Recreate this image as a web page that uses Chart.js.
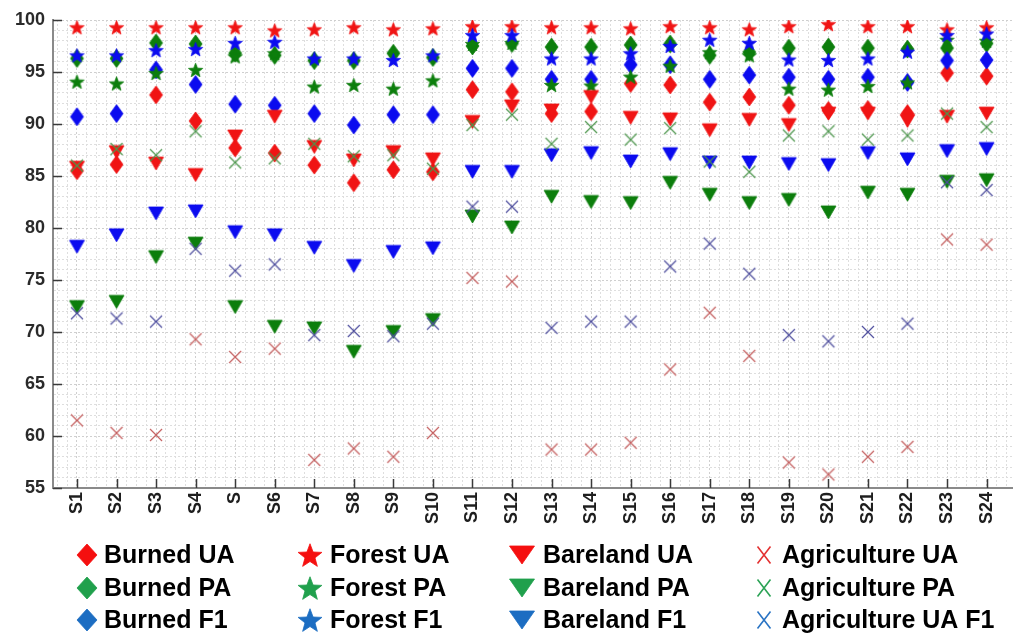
<!DOCTYPE html>
<html>
<head>
<meta charset="utf-8">
<script src="https://cdn.jsdelivr.net/npm/chart.js@4/dist/chart.umd.min.js"></script>
<style>
  html, body { margin: 0; padding: 0; background: #ffffff; }
  #wrap { width: 1032px; height: 639px; }
</style>
</head>
<body>
<div id="wrap"><canvas id="chart" width="1032" height="639"></canvas></div>
<script>
// Sites along the x axis
const sites = ['S1','S2','S3','S4','S','S6','S7','S8','S9','S10','S11','S12',
               'S13','S14','S15','S16','S17','S18','S19','S20','S21','S22','S23','S24'];

// Labelled y ticks (accuracy, %)
const yTickValues = [55, 60, 65, 70, 75, 80, 85, 90, 95, 100];

// Burned class
const burnedUA = [85.5, 86.1, 92.8, 90.3, 87.7, 87.2, 86.05, 84.35, 85.6, 85.4, 93.3, 93.1,
                  91.0, 91.2, 93.9, 93.75, 92.1, 92.6, 91.8, 91.3, 91.4, 91.0, 94.9, 94.6];
const burnedPA = [96.3, 96.3, 97.8, 97.7, 96.8, 96.6, 96.1, 96.1, 96.8, 96.4, 97.5, 97.75,
                  97.4, 97.4, 97.6, 97.7, 96.6, 96.9, 97.3, 97.4, 97.3, 97.2, 97.3, 97.75];
const burnedF1 = [90.7, 91.0, 95.2, 93.8, 91.9, 91.8, 91.0, 89.9, 90.9, 90.9, 95.35, 95.35,
                  94.3, 94.3, 95.7, 95.7, 94.3, 94.7, 94.5, 94.3, 94.5, 94.0, 96.1, 96.15];

// Forest class
const forestUA = [99.3, 99.3, 99.3, 99.3, 99.3, 99.0, 99.1, 99.3, 99.1, 99.2, 99.4, 99.4,
                  99.3, 99.3, 99.2, 99.4, 99.3, 99.1, 99.4, 99.6, 99.4, 99.4, 99.1, 99.3];
const forestPA = [94.07, 93.9, 94.9, 95.2, 96.5, 96.8, 93.6, 93.75, 93.4, 94.2, 97.7, 97.8,
                  93.75, 93.7, 94.55, 95.6, 96.9, 96.6, 93.4, 93.3, 93.65, 94.0, 98.1, 98.0];
const forestF1 = [96.6, 96.6, 97.1, 97.2, 97.8, 97.9, 96.3, 96.3, 96.15, 96.6, 98.55, 98.55,
                  96.3, 96.3, 96.8, 97.5, 98.1, 97.8, 96.2, 96.15, 96.3, 96.95, 98.55, 98.7];

// Bareland class
const barelandUA = [85.8, 87.3, 86.2, 85.1, 88.8, 90.7, 87.8, 86.5, 87.3, 86.6, 90.2, 91.7,
                    91.3, 92.6, 90.6, 90.45, 89.4, 90.4, 89.9, 91.0, 91.0, 90.3, 90.7, 91.0];
const barelandPA = [72.4, 72.9, 77.2, 78.5, 72.4, 70.5, 70.35, 68.1, 70.0, 71.15, 81.1, 80.05,
                    83.0, 82.5, 82.4, 84.35, 83.2, 82.4, 82.7, 81.5, 83.4, 83.2, 84.45, 84.6];
const barelandF1 = [78.2, 79.3, 81.4, 81.6, 79.6, 79.3, 78.1, 76.35, 77.7, 78.05, 85.4, 85.4,
                    87.0, 87.2, 86.4, 87.1, 86.3, 86.3, 86.15, 86.05, 87.2, 86.6, 87.4, 87.6];

// Agriculture class
const agriUA = [61.5, 60.3, 60.1, 69.3, 67.6, 68.4, 57.7, 58.8, 58.0, 60.3, 75.2, 74.85,
                58.7, 58.7, 59.35, 66.4, 71.85, 67.7, 57.45, 56.3, 58.0, 58.95, 78.9, 78.4];
const agriPA = [86.0, 87.6, 87.0, 89.3, 86.3, 86.7, 88.1, 86.9, 87.0, 85.7, 89.9, 90.9,
                88.1, 89.7, 88.5, 89.6, 86.4, 85.4, 88.9, 89.3, 88.5, 88.9, 91.0, 89.7];
const agriF1 = [71.8, 71.3, 71.0, 78.0, 75.9, 76.5, 69.7, 70.1, 69.6, 70.8, 82.05, 82.05,
                70.4, 71.0, 71.0, 76.3, 78.5, 75.6, 69.7, 69.1, 70.0, 70.8, 84.4, 83.65];

// ---- marker drawing -------------------------------------------------------
function tracePath(ctx, shape, cx, cy, w, h) {
  ctx.beginPath();
  if (shape === 'diamond') {
    ctx.moveTo(cx, cy - h / 2);
    ctx.lineTo(cx + w / 2, cy);
    ctx.lineTo(cx, cy + h / 2);
    ctx.lineTo(cx - w / 2, cy);
    ctx.closePath();
  } else if (shape === 'star') {
    const R = w / 2, r = R * 0.42;
    for (let k = 0; k < 10; k++) {
      const rad = k % 2 === 0 ? R : r;
      const a = -Math.PI / 2 + k * Math.PI / 5;
      const px = cx + rad * Math.cos(a), py = cy + rad * Math.sin(a) + R * 0.1;
      if (k === 0) ctx.moveTo(px, py); else ctx.lineTo(px, py);
    }
    ctx.closePath();
  } else if (shape === 'tri') {
    ctx.moveTo(cx - w / 2, cy - h / 2);
    ctx.lineTo(cx + w / 2, cy - h / 2);
    ctx.lineTo(cx, cy + h / 2);
    ctx.closePath();
  } else if (shape === 'cross') {
    ctx.moveTo(cx - w / 2, cy - h / 2);
    ctx.lineTo(cx + w / 2, cy + h / 2);
    ctx.moveTo(cx + w / 2, cy - h / 2);
    ctx.lineTo(cx - w / 2, cy + h / 2);
  }
}

function paintShape(ctx, shape, cx, cy, w, h, color, lw) {
  tracePath(ctx, shape, cx, cy, w, h);
  if (shape === 'cross') {
    ctx.strokeStyle = color;
    ctx.lineWidth = lw || 1.3;
    ctx.stroke();
  } else {
    ctx.fillStyle = color;
    ctx.fill();
    ctx.strokeStyle = color;
    ctx.lineWidth = 0.8;
    ctx.stroke();
  }
}

const markerSize = {
  diamond: [13, 18],
  star:    [15, 14],
  tri:     [15, 13],
  cross:   [12, 12]
};

function markerImage(shape, color) {
  const [w, h] = markerSize[shape];
  const c = document.createElement('canvas');
  c.width = w + 4;
  c.height = h + 4;
  paintShape(c.getContext('2d'), shape, c.width / 2, c.height / 2, w, h, color, 1.2);
  return c;
}

// ---- series definitions ---------------------------------------------------
const RED = '#f01414', GREEN = '#0c7e0c', BLUE = '#0b0bef';
const series = [
  { label: 'Burned UA',   values: burnedUA,   shape: 'diamond', color: RED,   key: '#f50f0f' },
  { label: 'Burned PA',   values: burnedPA,   shape: 'diamond', color: GREEN, key: '#20a04c' },
  { label: 'Burned F1',   values: burnedF1,   shape: 'diamond', color: BLUE,  key: '#1c6dc2' },
  { label: 'Forest UA',   values: forestUA,   shape: 'star',    color: RED,   key: '#f50f0f' },
  { label: 'Forest PA',   values: forestPA,   shape: 'star',    color: GREEN, key: '#20a04c' },
  { label: 'Forest F1',   values: forestF1,   shape: 'star',    color: BLUE,  key: '#1c6dc2' },
  { label: 'Bareland UA', values: barelandUA, shape: 'tri',     color: RED,   key: '#f50f0f' },
  { label: 'Bareland PA', values: barelandPA, shape: 'tri',     color: GREEN, key: '#20a04c' },
  { label: 'Bareland F1', values: barelandF1, shape: 'tri',     color: BLUE,  key: '#1c6dc2' },
  { label: 'Agriculture UA',    values: agriUA, shape: 'cross', color: '#c45f5f', key: '#e43232' },
  { label: 'Agriculture PA',    values: agriPA, shape: 'cross', color: '#4c964c', key: '#2ca356' },
  { label: 'Agriculture UA F1', values: agriF1, shape: 'cross', color: '#4e4e9e', key: '#2a74c4' }
];

const datasets = series.map((s, i) => ({
  label: s.label,
  data: s.values.map((v, j) => ({ x: j, y: v })),
  pointStyle: markerImage(s.shape, s.color),
  pointRadius: 8,
  pointHoverRadius: 8,
  showLine: false,
  order: series.length - i,
  shape: s.shape,
  keyColor: s.key
}));

// ---- plugins --------------------------------------------------------------
// Short tick marks pointing into the plot area
const innerTicks = {
  id: 'innerTicks',
  beforeDatasetsDraw(chart) {
    const { ctx, chartArea: a, scales: { x, y } } = chart;
    ctx.save();
    ctx.strokeStyle = '#3a3a3a';
    ctx.lineWidth = 1.5;
    ctx.beginPath();
    sites.forEach((s, i) => {
      const px = Math.round(x.getPixelForValue(i)) + 0.5;
      ctx.moveTo(px, a.bottom);
      ctx.lineTo(px, a.bottom - 9);
    });
    yTickValues.forEach(v => {
      const py = Math.round(y.getPixelForValue(v)) + 0.5;
      ctx.moveTo(a.left, py);
      ctx.lineTo(a.left + 9, py);
    });
    ctx.stroke();
    ctx.restore();
  }
};

// Legend laid out as 4 columns x 3 rows beneath the axis
const gridLegend = {
  id: 'gridLegend',
  afterDraw(chart, args, opts) {
    const { ctx } = chart;
    ctx.save();
    ctx.font = 'bold 25px "Liberation Sans", Arial, sans-serif';
    ctx.textBaseline = 'middle';
    ctx.textAlign = 'left';
    chart.data.datasets.forEach((ds, i) => {
      const col = Math.floor(i / 3), row = i % 3;
      const mx = opts.markerX[col], tx = opts.textX[col], cy = opts.rowY[row];
      const size = opts.sizes[ds.shape];
      paintShape(ctx, ds.shape, mx, cy, size[0], size[1], ds.keyColor, 1.6);
      ctx.fillStyle = '#000000';
      ctx.fillText(ds.label, tx, cy + 1);
    });
    ctx.restore();
  }
};

// ---- chart ----------------------------------------------------------------
new Chart(document.getElementById('chart'), {
  type: 'scatter',
  data: { datasets },
  plugins: [innerTicks, gridLegend],
  options: {
    responsive: false,
    animation: false,
    layout: { padding: { top: 20, right: 5, bottom: 101, left: 0 } },
    plugins: {
      legend: { display: false },
      tooltip: { enabled: false },
      gridLegend: {
        markerX: [87, 310, 522, 764],
        textX: [104, 330, 543, 782],
        rowY: [555, 588, 620],
        sizes: { diamond: [20, 22], star: [25, 24], tri: [25, 18], cross: [13, 17] }
      }
    },
    scales: {
      x: {
        type: 'linear',
        min: -0.606,
        max: 23.65,
        afterBuildTicks(scale) {
          const t = [];
          for (let k = -2; k <= sites.length * 4 - 2; k++) t.push({ value: k / 4 });
          scale.ticks = t;
        },
        afterFit(scale) { scale.height = 50; },
        ticks: {
          autoSkip: false,
          minRotation: 90,
          maxRotation: 90,
          padding: 4,
          color: '#1e1e1e',
          font: { family: '"Liberation Sans", Arial, sans-serif', size: 18, weight: 'bold' },
          callback: v => (Number.isInteger(v) && v >= 0 && v < sites.length) ? sites[v] : ''
        },
        grid: {
          drawTicks: false,
          color: ctx => Number.isInteger(ctx.tick && ctx.tick.value) ? '#cfcfcf' : '#dedede',
          lineWidth: 1
        },
        border: { display: true, color: '#8a8a8a', width: 2, dash: [2, 2] }
      },
      y: {
        min: 55,
        max: 100,
        afterBuildTicks(scale) {
          const t = [];
          for (let v = 55; v <= 100; v++) t.push({ value: v });
          scale.ticks = t;
        },
        afterFit(scale) { scale.width = 53; },
        ticks: {
          autoSkip: false,
          padding: 8,
          color: '#2a2a2a',
          font: { family: '"Liberation Sans", Arial, sans-serif', size: 18, weight: 'bold' },
          callback: v => yTickValues.includes(v) ? String(v) : ''
        },
        grid: {
          drawTicks: false,
          color: ctx => (ctx.tick && ctx.tick.value % 5 === 0) ? '#cfcfcf' : '#dedede',
          lineWidth: 1
        },
        border: { display: true, color: '#8a8a8a', width: 2, dash: [2, 2] }
      }
    }
  }
});
</script>
</body>
</html>
